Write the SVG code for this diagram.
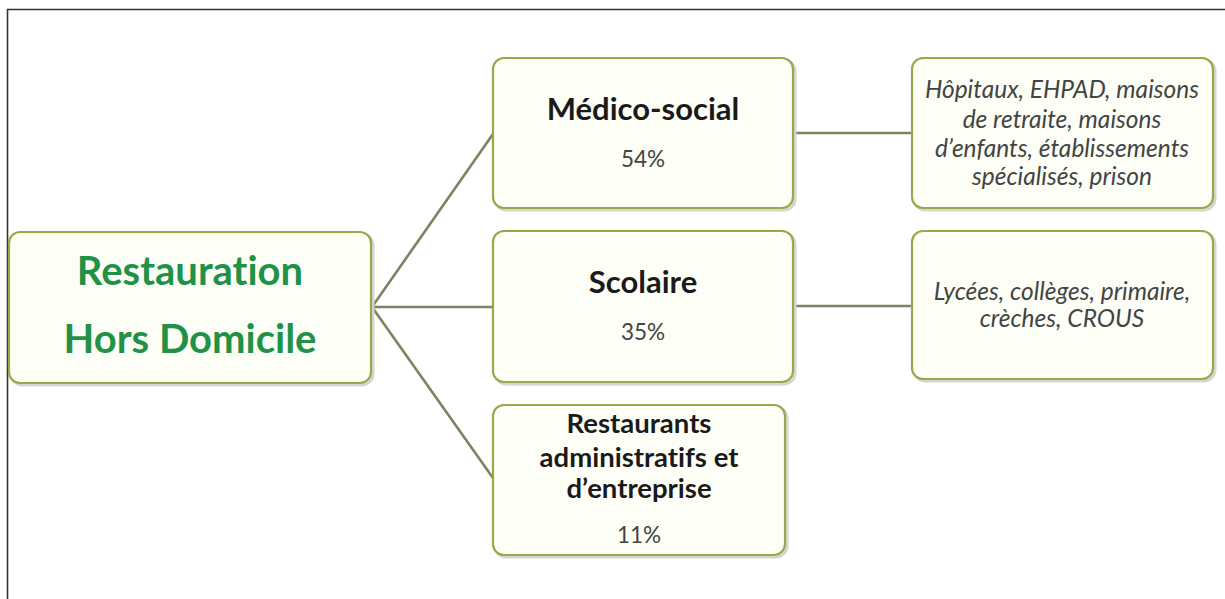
<svg xmlns="http://www.w3.org/2000/svg" width="1225" height="599" viewBox="0 0 1225 599">
<style>
.box{fill:#fdfff6;stroke:#98a84a;stroke-width:2.2}
.sh{fill:none;stroke:#d4d6d0;stroke-width:3}
.con{stroke:#7b8462;stroke-width:2.6;fill:none}
.t{font-family:Lato,"Open Sans",sans-serif;text-anchor:middle;font-variant-ligatures:none}
.root{font-weight:bold;font-size:40px;fill:#1f9248}
.hd{font-weight:bold;font-size:31px;fill:#1a1a1a}
.hd3{font-weight:bold;font-size:27.5px;fill:#1a1a1a}
.pc{font-size:22.5px;fill:#444}
.it{font-style:italic;font-size:24.5px;fill:#444}
</style>
<rect x="0" y="0" width="1225" height="599" fill="#fff"/>
<path d="M7.5 599 V9.5 H1225" fill="none" stroke="#333" stroke-width="1.6"/>
<g id="connectors">
<line class="con" x1="372" y1="307" x2="493" y2="134"/>
<line class="con" x1="372" y1="307" x2="493" y2="307"/>
<line class="con" x1="372" y1="307" x2="493" y2="478"/>
<line class="con" x1="793" y1="133" x2="912" y2="133"/>
<line class="con" x1="793" y1="306" x2="912" y2="306"/>
</g>
<g id="root">
<rect class="sh" x="11" y="234" width="362" height="151" rx="11"/>
<rect class="box" x="9" y="232" width="362" height="151" rx="11"/>
<text class="t root" x="190" y="285">Restauration</text>
<text class="t root" x="190" y="353">Hors Domicile</text>
</g>
<g id="medico">
<rect class="sh" x="495" y="60" width="300" height="150" rx="11"/>
<rect class="box" x="493" y="58" width="300" height="150" rx="11"/>
<text class="t hd" x="643" y="120">Médico-social</text>
<text class="t pc" x="643" y="167">54%</text>
</g>
<g id="scolaire">
<rect class="sh" x="495" y="233" width="300" height="151" rx="11"/>
<rect class="box" x="493" y="231" width="300" height="151" rx="11"/>
<text class="t hd" x="643" y="293">Scolaire</text>
<text class="t pc" x="643" y="340">35%</text>
</g>
<g id="restaurants">
<rect class="sh" x="495" y="407" width="292" height="150" rx="11"/>
<rect class="box" x="493" y="405" width="292" height="150" rx="11"/>
<text class="t hd3" x="639" y="433">Restaurants</text>
<text class="t hd3" x="639" y="467">administratifs et</text>
<text class="t hd3" x="639" y="498">d’entreprise</text>
<text class="t pc" x="639" y="543">11%</text>
</g>
<g id="medico-detail">
<rect class="sh" x="914" y="60" width="301" height="150" rx="11"/>
<rect class="box" x="912" y="58" width="301" height="150" rx="11"/>
<text class="t it" x="1062" y="98">Hôpitaux, EHPAD, maisons</text>
<text class="t it" x="1062" y="128">de retraite, maisons</text>
<text class="t it" x="1062" y="157">d’enfants, établissements</text>
<text class="t it" x="1062" y="185">spécialisés, prison</text>
</g>
<g id="scolaire-detail">
<rect class="sh" x="914" y="233" width="301" height="148" rx="11"/>
<rect class="box" x="912" y="231" width="301" height="148" rx="11"/>
<text class="t it" x="1062" y="300">Lycées, collèges, primaire,</text>
<text class="t it" x="1062" y="327">crèches, CROUS</text>
</g>
</svg>
